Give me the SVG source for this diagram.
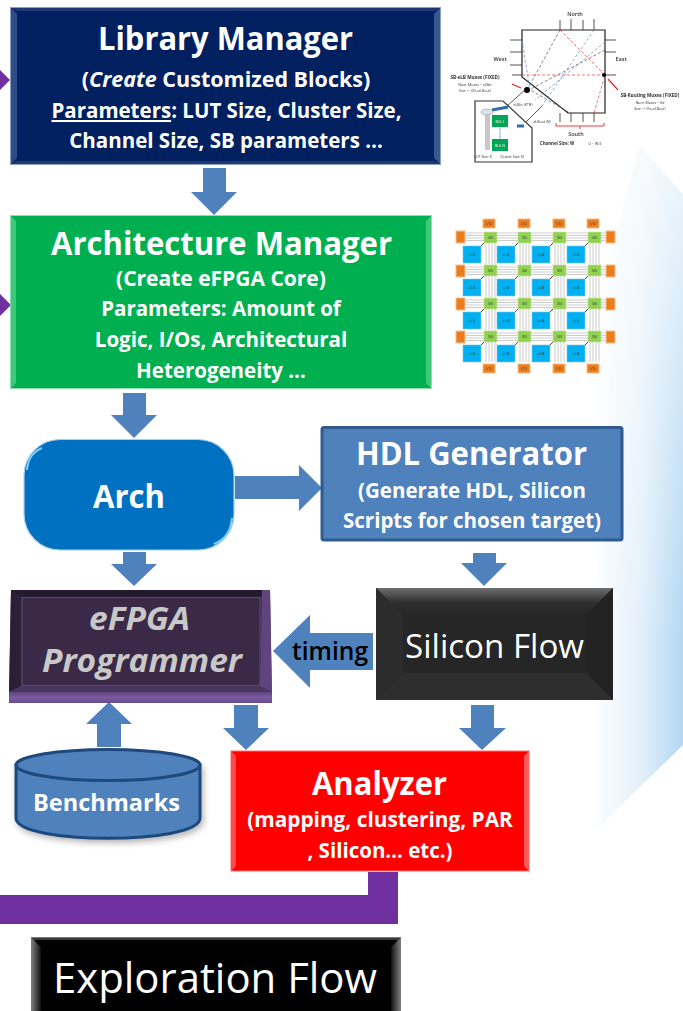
<svg xmlns="http://www.w3.org/2000/svg" width="683" height="1011" viewBox="0 0 683 1011">
<defs>
<linearGradient id="bg" gradientUnits="userSpaceOnUse" x1="592" y1="0" x2="690" y2="0"><stop offset="0" stop-color="#fff"/><stop offset="0.5" stop-color="#e3f0fa"/><stop offset="1" stop-color="#aad2f1"/></linearGradient>
<linearGradient id="fade" gradientUnits="userSpaceOnUse" x1="0" y1="140" x2="0" y2="640"><stop offset="0" stop-color="#fff" stop-opacity=".78"/><stop offset="1" stop-color="#fff" stop-opacity="0"/></linearGradient>
<linearGradient id="topBevel" x1="0" y1="0" x2="0" y2="1"><stop offset="0" stop-color="#6e6e6e"/><stop offset="0.55" stop-color="#2e2e2e"/><stop offset="1" stop-color="#262626"/></linearGradient>
<linearGradient id="sideL" x1="0" y1="0" x2="1" y2="0"><stop offset="0" stop-color="#777"/><stop offset="1" stop-color="#111"/></linearGradient>
<linearGradient id="sideR" x1="0" y1="0" x2="1" y2="0"><stop offset="0" stop-color="#111"/><stop offset="1" stop-color="#777"/></linearGradient>
<linearGradient id="progB" x1="0" y1="0" x2="0" y2="1"><stop offset="0" stop-color="#5f4480"/><stop offset=".5" stop-color="#7a5a9e"/><stop offset="1" stop-color="#6a4c8c"/></linearGradient>
<filter id="soft" x="-5%" y="-5%" width="110%" height="110%"><feGaussianBlur stdDeviation="0.55"/></filter>
<filter id="shadow" x="-10%" y="-10%" width="120%" height="125%"><feDropShadow dx="2" dy="3" stdDeviation="3" flood-color="#000" flood-opacity="0.3"/></filter>
<style>
text{font-family:"Open Sans","Noto Sans","Liberation Sans",sans-serif;text-anchor:middle}
.ttl{font-size:32px;font-weight:700;fill:#fff}
.sub{font-size:20.5px;font-weight:700;fill:#fff}
.arrow{fill:#4f81bd}
.elb{fill:#00b0f0;stroke:#7fc4e8;stroke-width:.6}
.sb{fill:#92d050;stroke:#c5e5a0;stroke-width:.6}
.io{fill:#ed7d1c;stroke:#f9bd8a;stroke-width:1}
.tiny{font-size:3.5px;fill:#333}
.lab{font-size:5.5px;fill:#333}
.g{font-size:4px;fill:#2a4a3a}
.ch{stroke:#c6c6c6;stroke-width:.9;fill:none}
.bk{stroke:#222;stroke-width:.8;fill:none}
</style>
</defs>

<polygon points="640,146 683,195 683,745 570,855 570,400" fill="url(#bg)"/>
<polygon points="640,146 683,195 683,745 570,855 570,400" fill="url(#fade)"/>

<g id="connectors">
<polygon class="arrow" points="203,168 226,168 226,192 237,192 214,215 191,192 203,192"/>
<polygon class="arrow" points="123,393 146,393 146,415 157,415 134,438 111,415 123,415"/>
<polygon class="arrow" points="235,476 299,476 299,465 322,488 299,511 299,499 235,499"/>
<polygon class="arrow" points="123,552 146,552 146,564 157,564 134,586 111,564 123,564"/>
<polygon class="arrow" points="473,553 496,553 496,563 507,563 484,586 461,563 473,563"/>
<polygon class="arrow" points="373,633 310,633 310,615 273,651 310,688 310,670 373,670"/>
<polygon class="arrow" points="234,705 258,705 258,728 269,728 246,750 223,728 234,728"/>
<polygon class="arrow" points="97,747 121,747 121,724 132,724 109,702 86,724 97,724"/>
<polygon class="arrow" points="471,705 494,705 494,728 506,728 482,750 459,728 471,728"/>
<polygon points="368,872 398,872 398,924 0,924 0,895 368,895" fill="#7030a0"/>
<polygon points="0,70 10,80 0,90" fill="#7030a0"/>
<polygon points="0,294 11,305 0,316" fill="#7030a0"/>
</g>

<g id="library-manager">
<rect x="10.500" y="7.500" width="430" height="157" fill="#002060" stroke="#8ea0c4"/>
<polygon points="11,8 17,14 17,158 11,164" fill="#2f4d85"/>
<polygon points="440,8 434,14 434,158 440,164" fill="#3a5890"/>
<polygon points="11,8 440,8 435,11 16,11" fill="#1d3a75"/>
<polygon points="11,164 440,164 435,161 16,161" fill="#1d3a75"/>
<text class="ttl" x="225.500" y="50" textLength="255" lengthAdjust="spacingAndGlyphs">Library Manager</text>
<text class="sub" x="226" y="87" style="font-size:21.500px">(<tspan font-style="italic">Create</tspan> Customized Blocks)</text>
<text class="sub" x="226.500" y="118"><tspan text-decoration="underline">Parameters</tspan>: LUT Size, Cluster Size,</text>
<text class="sub" x="226" y="148">Channel Size, SB parameters …</text>
</g>

<g id="architecture-manager">
<rect x="10.500" y="215.500" width="421" height="173" fill="#00b050" stroke="#8fdcae"/>
<polygon points="11,216 16,221 16,383 11,388" fill="#3fc87a"/>
<polygon points="431,216 426,221 426,383 431,388" fill="#3fc87a"/>
<text class="ttl" x="221.500" y="255" textLength="341" lengthAdjust="spacingAndGlyphs">Architecture Manager</text>
<text class="sub" x="221" y="286" style="font-size:21px">(Create eFPGA Core)</text>
<text class="sub" x="221" y="316">Parameters: Amount of</text>
<text class="sub" x="221" y="347">Logic, I/Os, Architectural</text>
<text class="sub" x="221" y="378">Heterogeneity …</text>
</g>

<g id="sb-detail" filter="url(#soft)">
<polygon points="522,30 605,30 605,113 568,113 522,77" fill="#fff" stroke="#222" stroke-width="1.200"/>
<polygon points="475,101 503,101 532,128 532,162 475,162" fill="#fff" stroke="#333" stroke-width="1.200"/>
<path d="M526,89 L507,106 M542,106 L526,122" fill="none" stroke="#444" stroke-width=".9"/>
<path d="M560,30V20M571,30V19M583,30V20M594,30V19M560,113V122M571,113V122M583,113V122M594,113V122M522,40H510M522,52H510M522,65H510M522,75H512M605,40H616M605,52H616M605,75H616" class="bk"/>
<g fill="none" stroke-width=".7" stroke-dasharray="3 2">
<path d="M560,30L605,75L594,113M522,75H605" stroke="#f03a3a"/>
<path d="M594,30L542,106M522,40L530,90M605,42L535,100" stroke="#5b8fd0"/>
<path d="M560,30L527,90M605,50L525,92M527,88L570,113" stroke="#555"/>
</g>
<circle cx="527" cy="90" r="3" fill="#000"/><circle cx="604" cy="75" r="2" fill="#000"/>
<path d="M521,88L512,84M608,79L618,90" stroke="#f02020" stroke-width="1.200"/>
<path d="M556,123v3h48v-3M580,126v3" fill="none" stroke="#f02020" stroke-width=".9"/>
<path d="M492,110L508,107" stroke="#2e6cb0" stroke-width="3"/>
<path d="M517,126h7" stroke="#2e6cb0" stroke-width="3"/>
<rect x="485" y="113" width="5" height="37" fill="#c8c8c8"/>
<ellipse cx="487" cy="112" rx="6" ry="3" fill="#d8e4f0" stroke="#999" stroke-width=".6"/>
<rect x="492" y="115" width="16" height="12" fill="#00a651"/><rect x="492" y="139" width="16" height="12" fill="#00a651"/>
<text x="500" y="122.500" font-size="3.500" fill="#fff">BLE-1</text><text x="500" y="146.500" font-size="3.500" fill="#fff">BLE-N</text>
<path d="M500,127V139" stroke="#6a9bd0" stroke-width=".8"/>
<text class="lab" x="575" y="16" style="font-weight:600">North</text>
<text class="lab" x="500" y="61" style="font-weight:600">West</text>
<text class="lab" x="621" y="61" style="font-weight:600">East</text>
<text class="lab" x="576" y="136" style="font-weight:600">South</text>
<text class="lab" x="475" y="79" style="font-size:4.600px;font-weight:700">SB-eLB Muxes (FIXED)</text>
<text class="tiny" x="475" y="85.500">Num. Muxes = eLBin</text>
<text class="tiny" x="475" y="92">Size &lt;= (Xi)+eLBout)</text>
<text class="lab" x="650" y="97" style="font-size:4.600px;font-weight:700">SB-Routing Muxes (FIXED)</text>
<text class="tiny" x="650" y="103.500">Num. Muxes = Kd</text>
<text class="tiny" x="650" y="110">Size &lt;= (Fs+eLBout)</text>
<text class="lab" x="557" y="145" style="font-size:4.400px;font-weight:700">Channel Size: W</text>
<text class="tiny" x="595" y="145">U = W/2</text>
<text class="tiny" x="523" y="106">eLBIn (K*N)</text>
<text class="tiny" x="542" y="123">eLBout (N)</text>
<text class="tiny" x="483" y="158">LUT Size: K</text>
<text class="tiny" x="512" y="158">Cluster Size: N</text>
</g>

<g id="efpga-grid" filter="url(#soft)">
<path class="ch" d="M466,233H605M466,235.500H605M466,238H605M466,240.500H605M466,267H605M466,269.500H605M466,272H605M466,274.500H605M466,300H605M466,302.500H605M466,305H605M466,307.500H605M466,333H605M466,335.500H605M466,338H605M466,340.500H605"/>
<path class="ch" d="M486,232V362M489,232V362M492,232V362M495,232V362M520,232V362M523,232V362M526,232V362M529,232V362M555,232V362M558,232V362M561,232V362M564,232V362M590,232V362M593,232V362M596,232V362M599,232V362"/>
<rect class="elb" x="463" y="246" width="18" height="17"/><rect class="elb" x="497" y="246" width="18" height="17"/><rect class="elb" x="532" y="246" width="18" height="17"/><rect class="elb" x="567" y="246" width="18" height="17"/>
<rect class="elb" x="463" y="279" width="18" height="17"/><rect class="elb" x="497" y="279" width="18" height="17"/><rect class="elb" x="532" y="279" width="18" height="17"/><rect class="elb" x="567" y="279" width="18" height="17"/>
<rect class="elb" x="463" y="312" width="18" height="17"/><rect class="elb" x="497" y="312" width="18" height="17"/><rect class="elb" x="532" y="312" width="18" height="17"/><rect class="elb" x="567" y="312" width="18" height="17"/>
<rect class="elb" x="463" y="345" width="18" height="17"/><rect class="elb" x="497" y="345" width="18" height="17"/><rect class="elb" x="532" y="345" width="18" height="17"/><rect class="elb" x="567" y="345" width="18" height="17"/>
<rect class="sb" x="484" y="232" width="13" height="11"/><rect class="sb" x="518" y="232" width="13" height="11"/><rect class="sb" x="553" y="232" width="13" height="11"/><rect class="sb" x="588" y="232" width="13" height="11"/>
<rect class="sb" x="484" y="265" width="13" height="11"/><rect class="sb" x="518" y="265" width="13" height="11"/><rect class="sb" x="553" y="265" width="13" height="11"/><rect class="sb" x="588" y="265" width="13" height="11"/>
<rect class="sb" x="484" y="298" width="13" height="11"/><rect class="sb" x="518" y="298" width="13" height="11"/><rect class="sb" x="553" y="298" width="13" height="11"/><rect class="sb" x="588" y="298" width="13" height="11"/>
<rect class="sb" x="484" y="331" width="13" height="11"/><rect class="sb" x="518" y="331" width="13" height="11"/><rect class="sb" x="553" y="331" width="13" height="11"/><rect class="sb" x="588" y="331" width="13" height="11"/>
<path d="M481,246L484,243M515,246L518,243M550,246L553,243M585,246L588,243M481,279L484,276M515,279L518,276M550,279L553,276M585,279L588,276M481,312L484,309M515,312L518,309M550,312L553,309M585,312L588,309M481,345L484,342M515,345L518,342M550,345L553,342M585,345L588,342" stroke="#333" stroke-width=".9"/>
<rect class="io" x="483" y="219" width="12" height="9"/><rect class="io" x="518" y="219" width="12" height="9"/><rect class="io" x="553" y="219" width="12" height="9"/><rect class="io" x="587" y="219" width="12" height="9"/>
<rect class="io" x="483" y="364" width="12" height="9"/><rect class="io" x="518" y="364" width="12" height="9"/><rect class="io" x="553" y="364" width="12" height="9"/><rect class="io" x="587" y="364" width="12" height="9"/>
<rect class="io" x="456" y="231" width="9" height="12"/><rect class="io" x="456" y="265" width="9" height="12"/><rect class="io" x="456" y="298" width="9" height="12"/><rect class="io" x="456" y="331" width="9" height="12"/>
<rect class="io" x="606" y="231" width="9" height="12"/><rect class="io" x="606" y="265" width="9" height="12"/><rect class="io" x="606" y="298" width="9" height="12"/><rect class="io" x="606" y="331" width="9" height="12"/>
<text class="g" x="490.500" y="239">SB</text><text class="g" x="524.500" y="239">SB</text><text class="g" x="559.500" y="239">SB</text><text class="g" x="594.500" y="239">SB</text>
<text class="g" x="490.500" y="272">SB</text><text class="g" x="524.500" y="272">SB</text><text class="g" x="559.500" y="272">SB</text><text class="g" x="594.500" y="272">SB</text>
<text class="g" x="490.500" y="305">SB</text><text class="g" x="524.500" y="305">SB</text><text class="g" x="559.500" y="305">SB</text><text class="g" x="594.500" y="305">SB</text>
<text class="g" x="490.500" y="338">SB</text><text class="g" x="524.500" y="338">SB</text><text class="g" x="559.500" y="338">SB</text><text class="g" x="594.500" y="338">SB</text>
<text class="g" x="472" y="256">eLB</text><text class="g" x="506" y="256">eLB</text><text class="g" x="541" y="256">eLB</text><text class="g" x="576" y="256">eLB</text>
<text class="g" x="472" y="289">eLB</text><text class="g" x="506" y="289">eLB</text><text class="g" x="541" y="289">eLB</text><text class="g" x="576" y="289">eLB</text>
<text class="g" x="472" y="322">eLB</text><text class="g" x="506" y="322">eLB</text><text class="g" x="541" y="322">eLB</text><text class="g" x="576" y="322">eLB</text>
<text class="g" x="472" y="355">eLB</text><text class="g" x="506" y="355">eLB</text><text class="g" x="541" y="355">eLB</text><text class="g" x="576" y="355">eLB</text>
<text class="g" x="489" y="225">I/O</text><text class="g" x="524" y="225">I/O</text><text class="g" x="559" y="225">I/O</text><text class="g" x="593" y="225">I/O</text>
<text class="g" x="489" y="370">I/O</text><text class="g" x="524" y="370">I/O</text><text class="g" x="559" y="370">I/O</text><text class="g" x="593" y="370">I/O</text>
</g>

<g id="arch">
<rect x="24" y="439.500" width="210" height="110.500" rx="36" fill="#0070c0" stroke="#a8cdea" stroke-width="1.200"/>
<path d="M27,470 C28,458 33,452 42,448" fill="none" stroke="#7fd0ff" stroke-width="2"/>
<path d="M232,518 C231,532 224,540 214,544" fill="none" stroke="#7fd0ff" stroke-width="2"/>
<text x="129" y="508" font-size="32" fill="#fff" style="font-weight:700" textLength="72" lengthAdjust="spacingAndGlyphs">Arch</text>
</g>

<g id="hdl-generator">
<rect x="322" y="427.500" width="300" height="112.500" rx="2" fill="#4f81bd" stroke="#2f5b8f" stroke-width="3"/>
<text class="ttl" x="471.500" y="465" textLength="231" lengthAdjust="spacingAndGlyphs">HDL Generator</text>
<text class="sub" x="472" y="498">(Generate HDL, Silicon</text>
<text class="sub" x="472" y="528">Scripts for chosen target)</text>
</g>

<g id="efpga-programmer">
<polygon points="11,590 270,590 272,703 9,703" fill="#3a2a47"/>
<polygon points="11,590 270,590 262,597 21,597" fill="#241a2e"/>
<polygon points="262,590 270,590 272,692 260,686" fill="#5f4480"/>
<polygon points="11,590 21,597 21,686 9,692" fill="#2a1f35"/>
<polygon points="21,686 260,686 272,692 9,692" fill="#4a3760"/>
<rect x="9" y="692" width="263" height="11" rx="1.500" fill="url(#progB)"/>
<rect x="22" y="597.500" width="238" height="88" fill="none" stroke="#5a4570" stroke-width="1.200"/>
<text x="139.500" y="630" font-size="32" font-style="italic" style="font-weight:700" fill="#c8c8c8" textLength="101" lengthAdjust="spacingAndGlyphs">eFPGA</text>
<text x="142" y="672" font-size="32" font-style="italic" style="font-weight:700" fill="#c8c8c8" textLength="200" lengthAdjust="spacingAndGlyphs">Programmer</text>
</g>

<g id="silicon-flow">
<rect x="376" y="588" width="237" height="112" fill="#262626"/>
<polygon points="376,588 613,588 586,615 403,615" fill="url(#topBevel)"/>
<polygon points="376,588 403,615 403,673 376,700" fill="#2c2c2c"/>
<polygon points="613,588 586,615 586,673 613,700" fill="#232323"/>
<polygon points="376,700 403,673 586,673 613,700" fill="#2e2e2e"/>
<text x="494.500" y="658" font-size="33" fill="#fff" textLength="179" lengthAdjust="spacingAndGlyphs">Silicon Flow</text>
</g>

<text id="timing-label" x="330" y="660" font-size="25" style="font-weight:600" fill="#000" textLength="76" lengthAdjust="spacingAndGlyphs">timing</text>

<g id="benchmarks">
<path d="M16,765 V818 C16,845 200,845 200,818 V765 Z" fill="#4f81bd" stroke="#1f497d" stroke-width="3" filter="url(#shadow)"/>
<ellipse cx="108" cy="765" rx="92" ry="15.500" fill="#4f81bd" stroke="#1f497d" stroke-width="3"/>
<text x="106.500" y="811" font-size="24" fill="#fff" style="font-weight:700" textLength="147" lengthAdjust="spacingAndGlyphs">Benchmarks</text>
</g>

<g id="analyzer">
<rect x="231" y="751" width="298" height="120" fill="#f00" stroke="#ff7070"/>
<polygon points="231,751 236,756 236,866 231,871" fill="#ff4a4a"/>
<polygon points="529,751 524,756 524,866 529,871" fill="#ff5a5a"/>
<text class="ttl" x="379.500" y="795" textLength="135" lengthAdjust="spacingAndGlyphs">Analyzer</text>
<text class="sub" x="380" y="827" style="font-size:20.800px">(mapping, clustering, PAR</text>
<text class="sub" x="380" y="858">, Silicon… etc.)</text>
</g>

<g id="exploration-flow">
<rect x="31.500" y="937.500" width="369" height="74" fill="#000" stroke="#777"/>
<polygon points="32,938 41,947 41,1011 32,1011" fill="url(#sideL)"/>
<polygon points="400,938 391,947 391,1011 400,1011" fill="url(#sideR)"/>
<rect x="33" y="938" width="366" height="2" fill="#3a3a3a"/>
<text x="215" y="993" font-size="42" fill="#fff" textLength="324" lengthAdjust="spacingAndGlyphs">Exploration Flow</text>
</g>
</svg>
